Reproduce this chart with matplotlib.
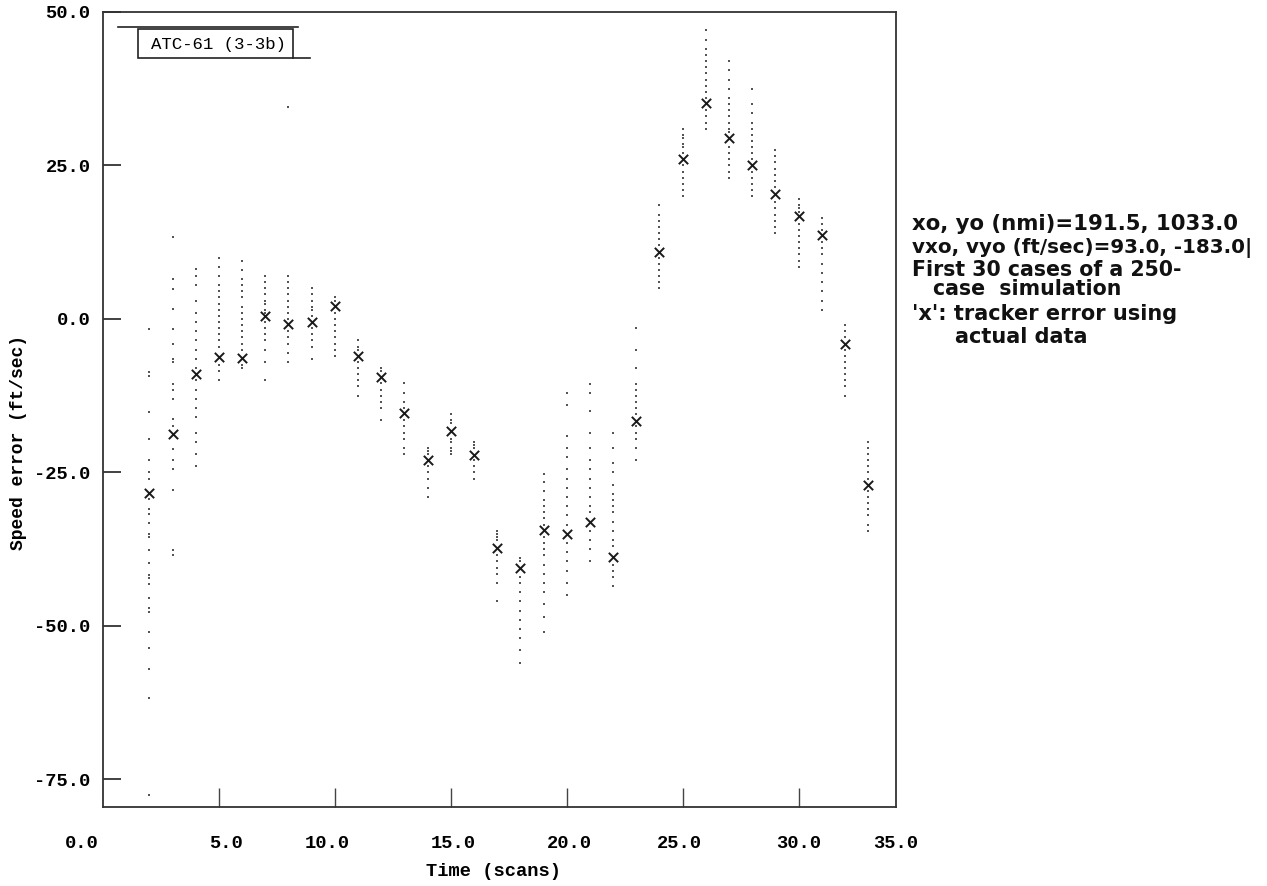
import matplotlib
matplotlib.use("Agg")
import matplotlib.pyplot as plt
from matplotlib.patches import Rectangle
from matplotlib.lines import Line2D

# ---------------- data ----------------
scans = list(range(2, 34))
tracker_error = [-28.3, -18.8, -9.0, -6.2, -6.4, 0.5, -0.9, -0.5, 2.1, -6.0, -9.5,
                 -15.4, -22.9, -18.3, -22.2, -37.3, -40.5, -34.3, -35.1, -33.0,
                 -38.7, -16.6, 10.9, 26.1, 35.1, 29.4, 25.0, 20.3, 16.7, 13.6,
                 -4.1, -27.0]

case_errors = [
    [-1.6, -8.7, -9.3, -15.2, -19.6, -22.9, -25.0, -26.1, -29.4, -31.0, -31.7, -33.3, -35.0,
     -35.5, -37.7, -39.7, -41.7, -42.2, -43.1, -45.4, -47.1, -47.7, -51.0, -53.6, -57.0, -61.8, -77.6],
    [13.4, 6.5, 4.9, 1.6, -1.6, -4.1, -6.5, -7.0, -10.6, -11.5, -13.0, -16.3, -17.5, -21.2,
     -23.0, -24.5, -27.8, -37.6, -38.4],
    [8.2, 7.0, 5.5, 3.0, 1.0, -0.5, -2.0, -3.5, -5.0, -6.5, -8.0, -10.0, -11.5, -13.0, -14.5,
     -16.0, -18.5, -20.0, -22.0, -24.0],
    [10.0, 8.5, 7.0, 5.5, 4.5, 3.5, 2.5, 1.5, 0.5, -0.5, -1.5, -2.5, -3.5, -4.5, -7.5, -8.5, -10.0],
    [9.5, 8.0, 6.5, 5.5, 4.5, 3.5, 2.0, 1.0, 0.0, -1.0, -2.0, -3.0, -4.0, -5.0, -7.5, -8.0],
    [7.0, 6.0, 5.0, 4.0, 3.0, 2.5, 1.5, 1.0, -0.5, -1.5, -2.5, -3.5, -5.0, -7.0, -10.0],
    [34.5, 7.0, 6.0, 5.0, 4.0, 3.0, 2.0, 1.0, 0.0, -2.0, -3.0, -4.0, -5.5, -7.0],
    [5.0, 4.0, 3.0, 2.0, 1.5, 0.5, -1.5, -2.5, -3.5, -4.5, -6.5],
    [3.5, 3.0, 1.0, 0.0, -1.0, -2.0, -3.0, -4.0, -5.0, -6.0],
    [-3.5, -4.5, -5.0, -7.0, -8.0, -9.0, -10.0, -11.0, -12.5],
    [-8.0, -8.5, -10.5, -11.5, -12.5, -13.5, -14.5, -16.5],
    [-10.5, -12.0, -13.5, -14.5, -16.5, -17.5, -18.5, -19.5, -21.0, -22.0],
    [-21.0, -21.5, -22.0, -24.0, -25.0, -26.0, -27.5, -29.0],
    [-15.5, -16.5, -17.0, -19.5, -20.0, -21.0, -21.5, -22.0],
    [-20.0, -20.5, -21.0, -23.0, -24.0, -25.0, -26.0],
    [-34.5, -35.0, -35.5, -36.0, -38.5, -39.5, -40.5, -41.5, -43.0, -46.0],
    [-39.0, -39.5, -42.0, -43.0, -44.5, -46.0, -47.5, -49.0, -50.5, -52.0, -54.0, -56.0],
    [-25.3, -26.5, -28.0, -29.5, -30.5, -31.5, -32.5, -33.5, -35.5, -36.5, -37.5, -38.5,
     -40.0, -41.5, -43.0, -44.5, -46.5, -48.5, -51.0],
    [-12.1, -14.0, -19.0, -21.0, -22.5, -24.5, -26.0, -27.5, -29.0, -30.5, -32.0, -33.5,
     -36.5, -38.0, -39.5, -41.0, -43.0, -45.0],
    [-10.6, -12.0, -15.0, -18.5, -21.0, -23.0, -24.5, -26.0, -27.5, -29.0, -30.5, -31.5,
     -34.5, -36.0, -37.5, -39.5],
    [-18.5, -21.0, -23.5, -25.0, -27.0, -28.5, -29.5, -30.5, -31.5, -33.0, -34.5, -36.0,
     -37.0, -40.0, -41.0, -42.0, -43.5],
    [-1.5, -5.0, -8.0, -10.6, -11.5, -12.5, -13.5, -14.5, -15.5, -17.5, -18.5, -19.5, -21.0, -22.9],
    [18.5, 17.0, 16.0, 15.0, 14.0, 13.0, 12.0, 10.0, 9.0, 8.0, 7.0, 6.0, 5.0],
    [31.0, 30.0, 29.5, 28.5, 28.0, 27.0, 25.0, 24.0, 23.0, 22.0, 21.0, 20.0],
    [47.0, 45.5, 44.0, 43.0, 42.0, 41.0, 40.0, 39.0, 38.0, 37.0, 36.0, 34.0, 33.0, 32.0, 31.0],
    [42.0, 40.5, 39.0, 37.5, 36.0, 35.0, 34.0, 33.0, 32.0, 31.0, 30.5, 28.0, 27.0, 26.0,
     25.0, 24.0, 23.0],
    [37.5, 35.0, 33.5, 32.0, 31.0, 30.0, 29.0, 28.0, 27.0, 26.0, 24.0, 23.0, 22.0, 21.0, 20.0],
    [27.5, 26.5, 25.5, 24.5, 23.5, 22.5, 21.5, 19.0, 18.0, 17.0, 16.0, 15.0, 14.0],
    [19.5, 18.5, 18.0, 17.5, 15.5, 14.5, 13.5, 12.5, 11.5, 10.5, 9.5, 8.5],
    [16.5, 15.5, 14.5, 12.5, 11.5, 10.5, 9.0, 7.5, 6.0, 4.5, 3.0, 1.5],
    [-1.0, -2.0, -3.0, -5.0, -6.0, -7.0, -8.0, -9.0, -10.0, -11.0, -12.5],
    [-20.0, -21.0, -22.0, -23.0, -24.0, -25.0, -26.0, -28.0, -29.0, -30.0, -31.0, -32.0,
     -33.5, -34.5],
]

xtick_values = [0, 5, 10, 15, 20, 25, 30, 35]
xtick_labels = ["0.0", "5.0", "10.0", "15.0", "20.0", "25.0", "30.0", "35.0"]
ytick_values = [-75, -50, -25, 0, 25, 50]
ytick_labels = ["-75.0", "-50.0", "-25.0", "0.0", "25.0", "50.0"]

info_lines = [
    "xo, yo (nmi)=191.5, 1033.0",
    "vxo, vyo (ft/sec)=93.0, -183.0|",
    "First 30 cases of a 250-",
    "case  simulation",
    "'x': tracker error using",
    "actual data",
]

# ---------------- figure ----------------
W, H = 1267, 886
fig = plt.figure(figsize=(W / 100, H / 100), dpi=100)
ax = fig.add_axes([103 / W, 1 - 807 / H, (896 - 103) / W, (807 - 12) / H])

XMAX = 34.2
ax.set_xlim(0, XMAX)
ax.set_ylim(-79.5, 50)

mono = "Liberation Mono"

# dots (individual cases)
dx, dy = [], []
for s, vals in zip(scans, case_errors):
    dx.extend([s] * len(vals))
    dy.extend(vals)
ax.scatter(dx, dy, s=2.5, marker="s", color="#555555", linewidths=0, zorder=2)

# tracker error markers
ax.scatter(scans, tracker_error, s=45, marker="x", color="#1a1a1a", linewidths=1.4, zorder=3)

# spines
for sp in ax.spines.values():
    sp.set_linewidth(1.3)
    sp.set_color("#333333")

# ticks
ax.set_xticks([v for v in xtick_values if 0 < v < XMAX])
ax.set_xticklabels([])
ax.tick_params(axis="x", direction="in", length=14, width=1.0, color="#444444")
ax.set_yticks(ytick_values)
ax.set_yticklabels(ytick_labels, fontfamily=mono, fontsize=13.5, fontweight="bold")
ax.tick_params(axis="y", direction="in", length=13, width=1.3, pad=9, color="#333333")

# x tick labels placed manually (original labels sit irregularly)
label_shift = {0: -21, 5: 7, 10: -8, 15: 2, 20: 3, 25: -3}
for v, lab in zip(xtick_values, xtick_labels):
    xv = min(v, XMAX)
    ax.annotate(lab, (xv, 0), xycoords=("data", "axes fraction"),
                xytext=(label_shift.get(v, 0), -36), textcoords="offset pixels",
                ha="center", va="center", fontfamily=mono, fontsize=13.5,
                fontweight="bold", annotation_clip=False)

ax.set_xlabel("Time (scans)", fontfamily=mono, fontweight="bold", fontsize=13.5)
ax.xaxis.set_label_coords((494 - 103) / 793, -(871 - 807) / 795)
ax.xaxis.label.set_va("center")
ax.set_ylabel("Speed error (ft/sec)", fontfamily=mono, fontsize=13, fontweight="bold")
ax.yaxis.set_label_coords(-(103 - 18) / 793, (807 - 443) / 795)
ax.yaxis.label.set_va("center")

# label box
def fx(px):
    return px / W

def fy(py):
    return 1 - py / H

fig.patches.append(Rectangle((fx(138), fy(58)), fx(293) - fx(138), fy(29) - fy(58),
                             transform=fig.transFigure, fill=False, edgecolor="#222222",
                             linewidth=1.2))
fig.lines.append(Line2D([fx(118), fx(298)], [fy(27), fy(27)], transform=fig.transFigure,
                        color="#222222", linewidth=1.2))
fig.lines.append(Line2D([fx(293), fx(310)], [fy(58), fy(58)], transform=fig.transFigure,
                        color="#222222", linewidth=1.2))
fig.text(fx(218), fy(44), "ATC-61 (3-3b)", ha="center", va="center",
         fontfamily=mono, fontsize=12.5)

# info text on the right
info_pos = [(912, 224), (912, 248), (912, 270), (933, 289), (912, 314), (955, 337)]
info_size = [15.3, 14.3, 14.8, 14.8, 15.0, 15.0]
for (px, py), fs, line in zip(info_pos, info_size, info_lines):
    fig.text(fx(px), fy(py), line, ha="left", va="center",
             fontfamily="DejaVu Sans", fontweight="bold", fontsize=fs, color="#111111")

fig.savefig("out.png", dpi=100)
